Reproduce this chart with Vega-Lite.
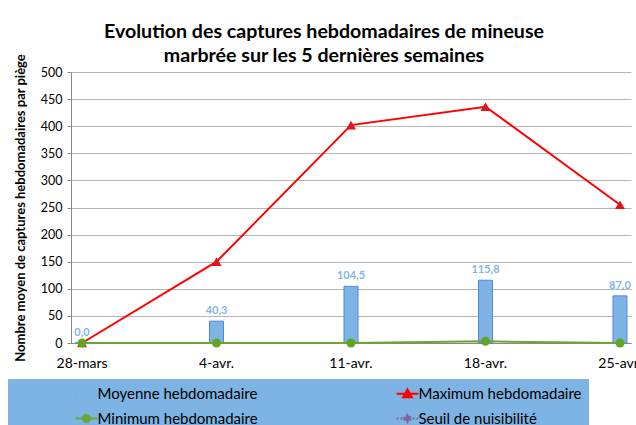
{
  "$schema": "https://vega.github.io/schema/vega-lite/v6.json",
  "width": 560,
  "height": 271,
  "autosize": "none",
  "padding": {"left": 71, "top": 72, "right": 5, "bottom": 82},
  "background": "white",
  "title": {
    "text": ["Evolution des captures hebdomadaires de mineuse", "marbrée sur les 5 dernières semaines"],
    "font": "Lato",
    "fontSize": 19.6,
    "fontWeight": "bold",
    "color": "#000000",
    "anchor": "middle",
    "frame": "group",
    "dx": -27,
    "dy": 17,
    "offset": 4,
    "lineHeight": 24
  },
  "data": {
    "values": [
      {"semaine": "28-mars", "serie": "Moyenne hebdomadaire", "valeur": 0},
      {"semaine": "4-avr.", "serie": "Moyenne hebdomadaire", "valeur": 40.3},
      {"semaine": "11-avr.", "serie": "Moyenne hebdomadaire", "valeur": 104.5},
      {"semaine": "18-avr.", "serie": "Moyenne hebdomadaire", "valeur": 115.8},
      {"semaine": "25-avr.", "serie": "Moyenne hebdomadaire", "valeur": 87.0},
      {"semaine": "28-mars", "serie": "Maximum hebdomadaire", "valeur": 0},
      {"semaine": "4-avr.", "serie": "Maximum hebdomadaire", "valeur": 150},
      {"semaine": "11-avr.", "serie": "Maximum hebdomadaire", "valeur": 402},
      {"semaine": "18-avr.", "serie": "Maximum hebdomadaire", "valeur": 436},
      {"semaine": "25-avr.", "serie": "Maximum hebdomadaire", "valeur": 255},
      {"semaine": "28-mars", "serie": "Minimum hebdomadaire", "valeur": 0},
      {"semaine": "4-avr.", "serie": "Minimum hebdomadaire", "valeur": 0},
      {"semaine": "11-avr.", "serie": "Minimum hebdomadaire", "valeur": 0},
      {"semaine": "18-avr.", "serie": "Minimum hebdomadaire", "valeur": 3},
      {"semaine": "25-avr.", "serie": "Minimum hebdomadaire", "valeur": 0}
    ]
  },
  "encoding": {
    "x": {
      "field": "semaine",
      "type": "ordinal",
      "sort": null,
      "scale": {"type": "band", "paddingInner": 0.896, "paddingOuter": 0.03},
      "axis": {
        "title": null,
        "labelAngle": 0,
        "labelFont": "Lato",
        "labelFontSize": 14,
        "labelColor": "#000000",
        "labelPadding": 13,
        "ticks": false,
        "domainColor": "#888888",
        "grid": false
      }
    },
    "y": {
      "field": "valeur",
      "type": "quantitative",
      "scale": {"domain": [0, 500], "nice": false},
      "axis": {
        "values": [0, 50, 100, 150, 200, 250, 300, 350, 400, 450, 500],
        "title": "Nombre moyen de captures hebdomadaires par piège",
        "titleFont": "Lato",
        "titleFontSize": 13,
        "titleFontWeight": "bold",
        "titleColor": "#000000",
        "titlePadding": 13,
        "labelFont": "Lato",
        "labelFontSize": 12.5,
        "labelColor": "#000000",
        "labelPadding": 5,
        "tickSize": 4,
        "tickColor": "#888888",
        "domainColor": "#888888",
        "gridColor": "#b4b4b4",
        "gridWidth": 1
      }
    }
  },
  "layer": [
    {
      "transform": [{"filter": "datum.serie === 'Moyenne hebdomadaire'"}],
      "mark": {"type": "bar", "stroke": "#4f86e8", "strokeWidth": 1, "opacity": 1},
      "encoding": {
        "color": {
          "field": "serie",
          "type": "nominal",
          "scale": {
            "domain": ["Moyenne hebdomadaire", "Maximum hebdomadaire", "Minimum hebdomadaire", "Seuil de nuisibilité"],
            "range": ["#7db4e3", "#ff0000", "#6aa634", "#8064a2"]
          },
          "legend": {
            "title": null,
            "orient": "none",
            "legendX": -63,
            "legendY": 307,
            "columns": 2,
            "direction": "horizontal",
            "padding": 7,
            "fillColor": "#7db4e3",
            "symbolOffset": 64,
            "columnPadding": 78,
            "rowPadding": 8,
            "labelFont": "Lato",
            "labelFontSize": 15,
            "labelColor": "#000000",
            "labelOffset": 3.5,
            "labelLimit": 400,
            "symbolSize": 484,
            "encoding": {
              "symbols": {
                "shape": {"value": {"expr": "datum.value === 'Moyenne hebdomadaire' ? 'M-1,-0.4L1,-0.4L1,0.4L-1,0.4ZM-0.9,-0.3L-0.9,0.3L0.9,0.3L0.9,-0.3Z' : datum.value === 'Maximum hebdomadaire' ? 'M-1,0L1,0M-0.4,0.32L0,-0.4L0.4,0.32Z' : datum.value === 'Minimum hebdomadaire' ? 'M-1,0L1,0M-0.32,0A0.32,0.32 0 1,0 0.32,0A0.32,0.32 0 1,0 -0.32,0Z' : 'M-1,0L1,0M-0.36,0L0,-0.36L0.36,0L0,0.36Z'"}},
                "fill": {"value": {"expr": "datum.value === 'Moyenne hebdomadaire' ? '#4a82ea' : datum.value === 'Maximum hebdomadaire' ? '#e3141b' : datum.value === 'Minimum hebdomadaire' ? '#62a524' : '#8064a2'"}},
                "stroke": {"value": {"expr": "datum.value === 'Moyenne hebdomadaire' ? '#4a82ea' : datum.value === 'Maximum hebdomadaire' ? '#ff0000' : datum.value === 'Minimum hebdomadaire' ? '#6aa634' : '#8064a2'"}},
                "strokeWidth": {"value": {"expr": "datum.value === 'Moyenne hebdomadaire' ? 0.5 : 2"}},
                "strokeDash": {"value": {"expr": "datum.value === 'Seuil de nuisibilité' ? [2, 2] : [1, 0]"}},
                "opacity": {"value": 1}
              }
            }
          }
        }
      }
    },
    {
      "transform": [{"filter": "datum.serie !== 'Moyenne hebdomadaire'"}],
      "mark": {"type": "line", "strokeWidth": 2},
      "encoding": {
        "color": {"field": "serie", "type": "nominal"},
        "detail": {"field": "serie"}
      }
    },
    {
      "transform": [{"filter": "datum.serie === 'Maximum hebdomadaire'"}],
      "mark": {"type": "point", "filled": true, "opacity": 1, "shape": "triangle-up", "size": 100, "color": "#e3141b"},
      "encoding": {}
    },
    {
      "transform": [{"filter": "datum.serie === 'Minimum hebdomadaire'"}],
      "mark": {"type": "point", "filled": true, "opacity": 1, "shape": "circle", "size": 81, "color": "#62a524"},
      "encoding": {}
    },
    {
      "transform": [{"filter": "datum.serie === 'Moyenne hebdomadaire'"}],
      "mark": {"type": "text", "font": "Lato", "fontSize": 11, "fontWeight": "bold", "color": "#84b4e8", "baseline": "alphabetic", "dy": -7},
      "encoding": {
        "text": {"field": "valeur", "type": "quantitative", "format": ".1f"}
      }
    }
  ],
  "config": {
    "locale": {"number": {"decimal": ",", "thousands": " ", "grouping": [3], "currency": ["", " €"]}},
    "view": {"stroke": null},
    "axis": {"domainWidth": 1}
  }
}
